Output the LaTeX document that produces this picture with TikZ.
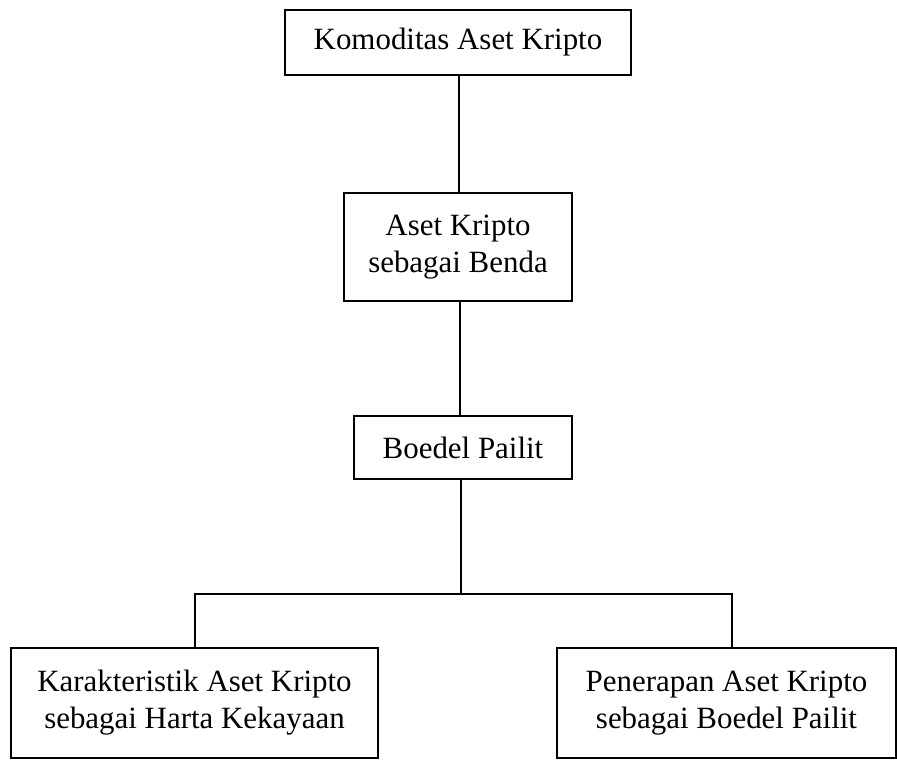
\documentclass[tikz,border=0pt]{standalone}
\usepackage{fontspec}
\setmainfont{Liberation Serif}

\begin{document}
\begin{tikzpicture}[x=0.02cm,y=-0.02cm,-,thick,line width=0.85pt,
    box node/.style={rectangle,draw,line width=1.7pt,align=center,inner sep=0pt,font=\fontsize{17.6}{21}\selectfont}]
    \useasboundingbox (0,0) rectangle (897,761);

    \node[box node,minimum width=346*0.02cm,minimum height=65*0.02cm] (komoditas) at (458,42.5) {Komoditas Aset Kripto};
    \node[box node,minimum width=228*0.02cm,minimum height=108*0.02cm] (benda) at (458,247) {Aset Kripto\\sebagai Benda};
    \node[box node,minimum width=218*0.02cm,minimum height=63*0.02cm] (boedel) at (463,447.5) {Boedel Pailit};
    \node[box node,minimum width=367*0.02cm,minimum height=110*0.02cm] (karakter) at (194.5,703) {Karakteristik Aset Kripto\\sebagai Harta Kekayaan};
    \node[box node,minimum width=339*0.02cm,minimum height=110*0.02cm] (penerapan) at (726.5,703) {Penerapan Aset Kripto\\sebagai Boedel Pailit};

    \coordinate (cabang) at (461,594);
    \coordinate (kiri) at (195,594);
    \coordinate (kanan) at (732,594);

    \draw ([xshift=1*0.02cm]komoditas.south) -- ([xshift=1*0.02cm]komoditas.south |- benda.north);
    \draw ([xshift=2*0.02cm]benda.south) -- ([xshift=2*0.02cm]benda.south |- boedel.north);
    \draw (cabang |- boedel.south) -- (cabang);
    \draw (kiri |- karakter.north) -- (kiri) -- (kanan) -- (kanan |- penerapan.north);
\end{tikzpicture}
\end{document}
